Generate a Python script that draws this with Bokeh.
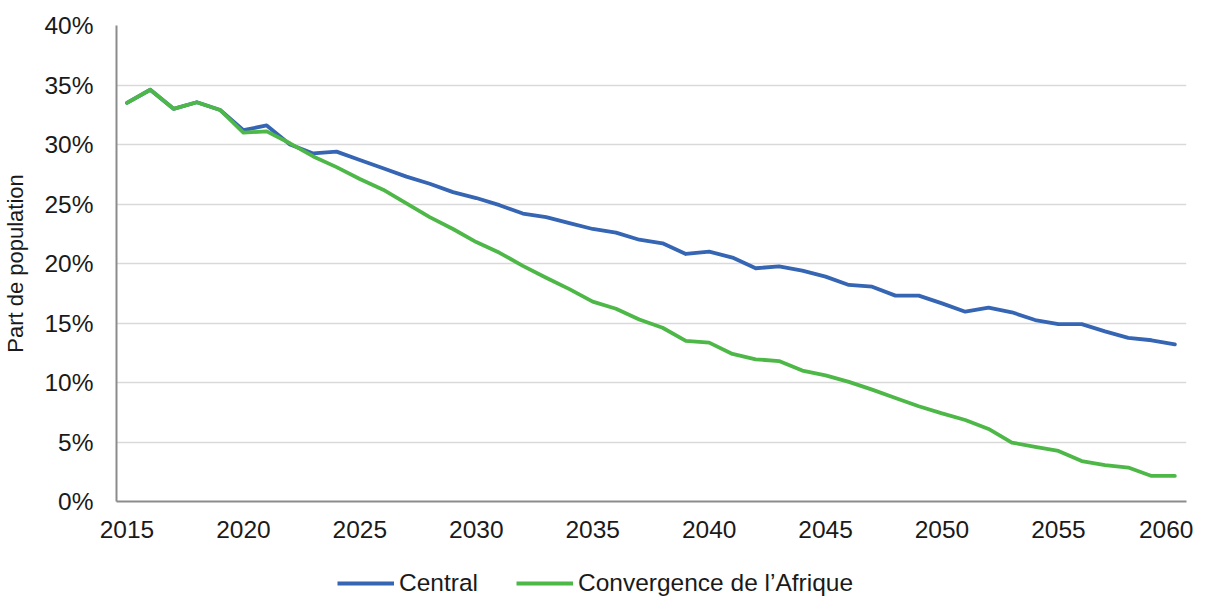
from bokeh.plotting import figure
from bokeh.layouts import column
from bokeh.models import Range1d, FixedTicker, NumeralTickFormatter, Legend, LegendItem
from bokeh.embed import file_html
from bokeh.resources import INLINE

years = list(range(2015, 2061))
central = [33.5, 34.6, 33.0, 33.55, 32.9, 31.2, 31.6, 30.0, 29.25, 29.4,
           28.7, 28.0, 27.3, 26.7, 26.0, 25.5, 24.9, 24.2, 23.9, 23.4,
           22.9, 22.6, 22.0, 21.7, 20.8, 21.0, 20.5, 19.6, 19.75, 19.4,
           18.9, 18.2, 18.05, 17.3, 17.3, 16.65, 15.95, 16.3, 15.9, 15.25,
           14.9, 14.9, 14.3, 13.75, 13.55, 13.2]
afrique = [33.5, 34.6, 33.0, 33.55, 32.9, 31.0, 31.1, 30.1, 29.0, 28.1,
           27.1, 26.2, 25.05, 23.9, 22.9, 21.8, 20.9, 19.8, 18.8, 17.85,
           16.8, 16.2, 15.3, 14.6, 13.5, 13.35, 12.4, 11.95, 11.8, 11.0,
           10.6, 10.05, 9.4, 8.7, 8.0, 7.4, 6.85, 6.1, 4.95, 4.6,
           4.25, 3.4, 3.05, 2.85, 2.15, 2.15]
series_names = ["Central", "Convergence de l\u2019Afrique"]
colors = ["#3565b3", "#4db848"]
x_ticks = list(range(2015, 2061, 5))
y_ticks = [0, 0.05, 0.10, 0.15, 0.20, 0.25, 0.30, 0.35, 0.40]

FONT = "Liberation Sans"
TXT = "#1a1a1a"
W = 1193
LW = 3.8
FS = "24.5px"

p = figure(width=W, height=547, output_backend="svg", toolbar_location=None,
           x_range=Range1d(2014.55, 2060.5), y_range=Range1d(0, 0.40),
           min_border_left=116, min_border_right=7, min_border_top=25,
           min_border_bottom=46)
p.outline_line_color = None
p.xgrid.grid_line_color = None
p.ygrid.grid_line_color = "#d9d9d9"
p.ygrid.grid_line_width = 1.5

for vals, c in zip([central, afrique], colors):
    p.line(years, [v / 100 for v in vals], line_color=c, line_width=LW,
           line_join="round", line_cap="round")

p.xaxis.ticker = FixedTicker(ticks=x_ticks)
p.yaxis.ticker = FixedTicker(ticks=y_ticks)
p.yaxis.formatter = NumeralTickFormatter(format="0%")
for ax in [p.xaxis[0], p.yaxis[0]]:
    ax.axis_line_color = "#8c8c8c"
    ax.axis_line_width = 2
    ax.major_tick_line_color = None
    ax.minor_tick_line_color = None
    ax.major_tick_in = 0
    ax.major_tick_out = 0
    ax.major_label_text_font = FONT
    ax.major_label_text_font_size = FS
    ax.major_label_text_color = TXT
p.xaxis.major_label_standoff = 19
p.yaxis.major_label_standoff = 23
p.yaxis.axis_label = "Part de population"
p.yaxis.axis_label_text_font = FONT
p.yaxis.axis_label_text_font_size = "22px"
p.yaxis.axis_label_text_font_style = "normal"
p.yaxis.axis_label_text_color = TXT
p.yaxis.axis_label_standoff = 13

# legend strip below the chart
lg = figure(width=W, height=50, output_backend="svg", toolbar_location=None,
            x_range=Range1d(0, 1), y_range=Range1d(0, 1),
            x_axis_type=None, y_axis_type=None,
            min_border_left=0, min_border_right=0, min_border_top=0, min_border_bottom=0)
lg.outline_line_color = None
lg.grid.grid_line_color = None
dummies = [lg.line([-10, -9], [-10, -9], line_color=c, line_width=LW) for c in colors]
legend = Legend(items=[LegendItem(label=n, renderers=[r]) for n, r in zip(series_names, dummies)],
                orientation="horizontal", location=(221, 0),
                label_text_font=FONT, label_text_font_size=FS, label_text_color=TXT,
                glyph_width=57, glyph_height=18, label_height=18, spacing=38, label_standoff=5,
                border_line_color=None, background_fill_alpha=0, padding=0, margin=0)
lg.add_layout(legend, "center")

layout = column(p, lg, spacing=0)
open("out.html", "w").write(file_html(layout, INLINE))
